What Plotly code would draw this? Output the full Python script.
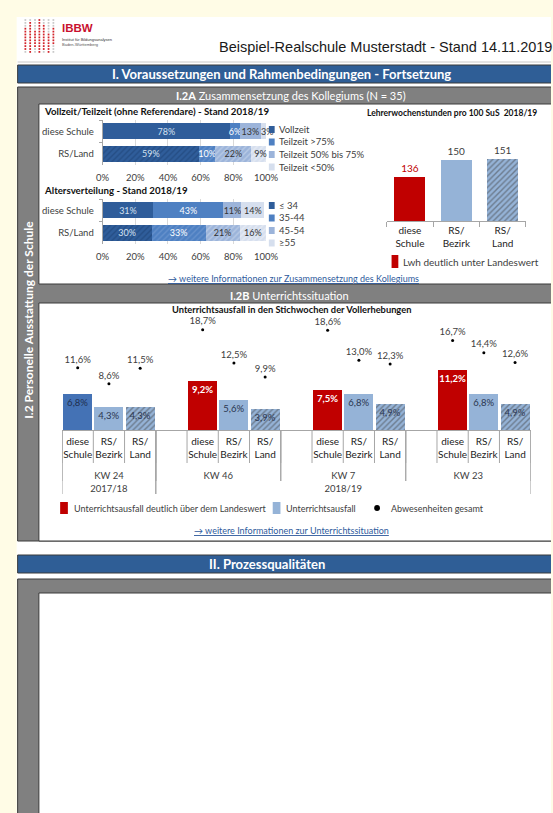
import plotly.graph_objects as go

W, H = 563, 813
def X(p): return p / W
def Y(p): return 1 - p / H

# ---------------- data ----------------
vt_rows = ["diese Schule", "RS/Land"]
vt_series = ["Vollzeit", "Teilzeit >75%", "Teilzeit 50% bis 75%", "Teilzeit <50%"]
vt_diese = [78, 6, 13, 3]
vt_land = [59, 10, 22, 9]

age_series = ["≤ 34", "35-44", "45-54", "≥55"]
age_diese = [31, 43, 11, 14]
age_land = [30, 33, 21, 16]

lwh_cats = ["diese<br>Schule", "RS/<br>Bezirk", "RS/<br>Land"]
lwh_values = [136, 150, 151]

weeks = ["KW 24", "KW 46", "KW 7", "KW 23"]
school_years = ["2017/18", "2018/19"]
week_year = [0, 1, 1, 1]
compare_cats = ["diese<br>Schule", "RS/<br>Bezirk", "RS/<br>Land"]
ausfall_schule = [6.8, 9.2, 7.5, 11.2]
ausfall_bezirk = [4.3, 5.6, 6.8, 6.8]
ausfall_land = [4.3, 3.9, 4.9, 4.9]
abw_schule = [11.6, 18.7, 18.6, 16.7]
abw_bezirk = [8.6, 12.5, 13.0, 14.4]
abw_land = [11.5, 9.9, 12.3, 12.6]
deutlich_ueber = [False, True, True, True]

# ---------------- styles ----------------
FONT = "Lato"
TXT = "#404040"
RED = "#C00000"
LIGHTBLUE = "#95B3D7"
seg_colors = ["#2F5D9A", "#4E80C2", "#9CB4DA", "#D6DFEE"]
seg_hatch = ["#1C3F70", "#7DA2D6", "#D3DFF0", "#F3F6FA"]
seg_text = ["#D5E1F1", "#FFFFFF", "#333333", "#333333"]
KW24_BLUE = "#4472B5"

def pct(v):
    return f"{v:.1f}".replace(".", ",") + "%"

fig = go.Figure()

# stacked bars (Vollzeit/Teilzeit, Alter)
def stacked(series, a, b, xa, ya, last_anchor="middle"):
    for i, name in enumerate(series):
        fig.add_trace(go.Bar(
            y=vt_rows, x=[a[i], b[i]], orientation="h", name=name,
            xaxis=xa, yaxis=ya, showlegend=False, cliponaxis=False,
            marker=dict(color=seg_colors[i], line=dict(width=0),
                        pattern=dict(shape=["", "/"], fgcolor=seg_hatch[i],
                                     bgcolor=seg_colors[i], size=4, solidity=0.35,
                                     fillmode="overlay")),
            text=[f"{a[i]}%", f"{b[i]}%"], textposition="inside",
            insidetextanchor=last_anchor if i == len(series) - 1 else "middle",
            textangle=0, constraintext="none",
            textfont=dict(family=FONT, size=9, color=seg_text[i]),
            hoverinfo="skip"))

stacked(vt_series, vt_diese, vt_land, "x", "y", last_anchor="start")
stacked(age_series, age_diese, age_land, "x2", "y2")

# Lehrerwochenstunden
fig.add_trace(go.Bar(
    x=lwh_cats, y=lwh_values, xaxis="x3", yaxis="y3", showlegend=False,
    marker=dict(color=[RED, LIGHTBLUE, LIGHTBLUE], line=dict(width=0),
                pattern=dict(shape=["", "", "/"], fgcolor="#DCE5F1", bgcolor=[RED, LIGHTBLUE, LIGHTBLUE],
                             size=4, solidity=0.35, fillmode="overlay")),
    text=[str(v) for v in lwh_values], textposition="outside", cliponaxis=False,
    textfont=dict(family=FONT, size=10, color=[RED, TXT, TXT]),
    width=0.67, hoverinfo="skip"))

# Unterrichtsausfall
xs, ys, cols, pats, texts, tcols, dots = [], [], [], [], [], [], []
tickvals, ticktext = [], []
for g in range(len(weeks)):
    start = 0 if g == 0 else 4 * g
    vals = [ausfall_schule[g], ausfall_bezirk[g], ausfall_land[g]]
    abw = [abw_schule[g], abw_bezirk[g], abw_land[g]]
    for j in range(3):
        xs.append(start + j)
        ys.append(vals[j])
        dots.append(abw[j])
        tickvals.append(start + j)
        ticktext.append(compare_cats[j])
        if j == 0:
            c = RED if deutlich_ueber[g] else KW24_BLUE
        else:
            c = LIGHTBLUE
        cols.append(c)
        pats.append("/" if j == 2 else "")
        if j == 0 and deutlich_ueber[g]:
            texts.append("<b>" + pct(vals[j]) + "</b>")
            tcols.append("#FFFFFF")
        else:
            texts.append(pct(vals[j]))
            tcols.append("#1F2F4F" if j == 0 else "#2A3550")

fig.add_trace(go.Bar(
    x=xs, y=ys, xaxis="x4", yaxis="y4", showlegend=False, width=0.93,
    marker=dict(color=cols, line=dict(width=0),
                pattern=dict(shape=pats, fgcolor="#DCE5F1", bgcolor=cols, size=4,
                             solidity=0.35, fillmode="overlay")),
    text=texts, textposition="inside", insidetextanchor="end", textangle=0,
    constraintext="none", textfont=dict(family=FONT, size=9.5, color=tcols),
    hoverinfo="skip"))
fig.add_trace(go.Scatter(
    x=xs, y=dots, xaxis="x4", yaxis="y4", mode="markers+text", showlegend=False,
    marker=dict(color="#000000", size=3), text=[pct(v) for v in dots],
    textposition="top center", textfont=dict(family=FONT, size=9.5, color=TXT),
    cliponaxis=False, hoverinfo="skip"))

# group spans of the multi-level category axis
n_cat = 4 * len(weeks) - 1
spans = []
for g in range(len(weeks)):
    lo = -0.5 if g == 0 else 4 * g - 1.5
    hi = 2.5 if g == 0 else 4 * g + 2.5
    spans.append((lo, hi))
year_spans = []
for yi in range(len(school_years)):
    members = [spans[g] for g in range(len(weeks)) if week_year[g] == yi]
    year_spans.append((min(m[0] for m in members), max(m[1] for m in members)))

# empty helper traces so the label axes exist
fig.add_trace(go.Scatter(x=[None], y=[None], xaxis="x5", yaxis="y4", showlegend=False,
                         hoverinfo="skip"))
fig.add_trace(go.Scatter(x=[None], y=[None], xaxis="x6", yaxis="y4", showlegend=False,
                         hoverinfo="skip"))

# ---------------- shapes (page frame) ----------------
shapes = []
BORDER = "#3A3A3A"
def hline(x0, x1, y, color, lw=1):
    shapes.append(dict(type="line", xref="paper", yref="paper", x0=X(x0), x1=X(x1),
                       y0=Y(y), y1=Y(y), line=dict(color=color, width=lw), layer="below"))
def vline(x, y0, y1, color, lw=1):
    shapes.append(dict(type="line", xref="paper", yref="paper", x0=X(x), x1=X(x),
                       y0=Y(y0), y1=Y(y1), line=dict(color=color, width=lw), layer="below"))
def rect(x0, y0, x1, y1, fill, border=True, bottom=True):
    shapes.append(dict(type="rect", xref="paper", yref="paper", x0=X(x0), x1=X(x1),
                       y0=Y(y1), y1=Y(y0), fillcolor=fill, layer="below",
                       line=dict(width=0)))
    if border:
        hline(x0, W, y0, BORDER)
        if bottom:
            hline(x0, W, y1, BORDER)
        vline(x0, y0, y1, BORDER)

rect(10, 17, W, H, "#FFFFFF", border=False)
hline(11, W, 62, "#C8C8C8")
rect(11, 65, W, 83, "#2F5E96")
rect(11, 87, W, 541, "#808080")
rect(33, 104, W, 284, "#FFFFFF")
rect(33, 303, W, 541, "#FFFFFF")
rect(11, 555, W, 573, "#2F5E96")
rect(11, 579, W, H, "#808080", bottom=False)
rect(33, 593, W, H, "#FFFFFF", bottom=False)

# logo dots
logo_cols = [19, 24, 29, 33.5, 38, 43, 48]
red_ranges = [(3, 10), (1, 11), (4, 9), (0, 11), (2, 10), (5, 11), (3, 8)]
for ci, cx in enumerate(logo_cols):
    r0, r1 = red_ranges[ci]
    for r in range(12):
        cy = 20 + r * 2.9
        col = "#D2232A" if r0 <= r <= r1 else "#C9C9C9"
        shapes.append(dict(type="rect", xref="paper", yref="paper",
                           x0=X(cx - 0.9), x1=X(cx + 0.9), y0=Y(cy + 0.9), y1=Y(cy - 0.9),
                           fillcolor=col, line=dict(width=0), layer="below"))

annotations = []
def ann(x, y, text, size=9.5, color=TXT, xanchor="left", bold=False, angle=0, family=FONT):
    annotations.append(dict(x=X(x), y=Y(y), xref="paper", yref="paper", text=text,
                            showarrow=False, xanchor=xanchor, yanchor="middle",
                            textangle=angle,
                            font=dict(family=family, size=size, color=color,
                                      weight="bold" if bold else "normal")))
def sq(x0, y0, x1, y1, color):
    shapes.append(dict(type="rect", xref="paper", yref="paper", x0=X(x0), x1=X(x1),
                       y0=Y(y1), y1=Y(y0), fillcolor=color, line=dict(width=0)))

# legends I.2A
for i, name in enumerate(vt_series):
    yy = 129.5 + i * 12.5
    sq(271, yy - 3.5, 277, yy + 3.5, seg_colors[i])
    ann(279, yy, name)
for i, name in enumerate(age_series):
    yy = 205.5 + i * 12.5
    sq(271, yy - 3.5, 277, yy + 3.5, seg_colors[i])
    ann(279, yy, name)

sq(398, 255, 405, 268, RED)
ann(408, 261.5, "Lwh deutlich unter Landeswert", size=10)

# legend I.2B
sq(55, 502, 63, 514, RED)
ann(67, 508, "Unterrichtsausfall deutlich über dem Landeswert", size=9)
sq(275, 502, 283, 514, LIGHTBLUE)
ann(287, 508, "Unterrichtsausfall", size=9)
shapes.append(dict(type="circle", xref="paper", yref="paper", x0=X(380), x1=X(386),
                   y0=Y(511), y1=Y(505), fillcolor="#000000", line=dict(width=0)))
ann(395, 508, "Abwesenheiten gesamt", size=9)

# separators of the multi-level category axis in I.2B
SEP = "#A6A6A6"
def vsep(xv, y0, y1):
    shapes.append(dict(type="line", xref="x4", yref="paper", x0=xv, x1=xv,
                       y0=Y(y0), y1=Y(y1), line=dict(color=SEP, width=1)))
for b in range(n_cat + 1):
    vsep(b - 0.5, 430, 463)
for lo, hi in spans:
    vsep(lo, 430, 481)
    vsep(hi, 430, 481)
for lo, hi in year_spans:
    vsep(lo, 430, 494)
    vsep(hi, 430, 494)

# ---------------- texts ----------------
ann(55, 28, "<b>IBBW</b>", size=11.5, color="#C8102E", family="Liberation Sans")
ann(55, 39, "Institut für Bildungsanalysen", size=4, color="#333333", family="Liberation Sans")
ann(55, 44, "Baden-Württemberg", size=4, color="#555555", family="Liberation Sans")
ann(217, 46.5, "Beispiel-Realschule Musterstadt - Stand 14.11.2019", size=14.5,
    color="#1A1A1A", family="Liberation Sans")
ann(284, 74, "I. Voraussetzungen und Rahmenbedingungen - Fortsetzung", size=13,
    color="#FFFFFF", xanchor="center", bold=True)
ann(269, 564, "II. Prozessqualitäten", size=13, color="#FFFFFF", xanchor="center", bold=True)
ann(294, 96, "<b>I.2A</b> Zusammensetzung des Kollegiums (N = 35)", size=11,
    color="#FFFFFF", xanchor="center")
ann(292, 295, "<b>I.2B</b> Unterrichtssituation", size=11, color="#FFFFFF", xanchor="center")
ann(21.5, 320, "I.2 Personelle Ausstattung der Schule", size=12, color="#FFFFFF",
    xanchor="center", bold=True, angle=-90)
ann(36, 111, "Vollzeit/Teilzeit (ohne Referendare) - Stand 2018/19", size=9.7,
    color="#111111", bold=True)
ann(36, 190, "Altersverteilung - Stand 2018/19", size=9.7, color="#111111", bold=True)
ann(461, 113, "Lehrerwochenstunden pro 100 SuS  2018/19", size=8.5, color="#111111",
    xanchor="center", bold=True)
ann(294, 310, "Unterrichtsausfall in den Stichwochen der Vollerhebungen", size=9.3,
    color="#111111", xanchor="center", bold=True)
LINK = "#2E5A9C"
ann(296, 278, "<span style='text-decoration:underline'>→ weitere Informationen zur Zusammensetzung des Kollegiums</span>",
    size=9, color=LINK, xanchor="center")
ann(294, 530, "<span style='text-decoration:underline'>→ weitere Informationen zur Unterrichtssituation</span>",
    size=9, color=LINK, xanchor="center")

# ---------------- axes ----------------
pct_axis = dict(range=[0, 100], tickvals=[0, 20, 40, 60, 80, 100],
                ticktext=["0%", "20%", "40%", "60%", "80%", "100%"],
                showgrid=True, gridcolor="#D9D9D9", gridwidth=1, zeroline=False,
                showline=False, tickfont=dict(family=FONT, size=9.5, color=TXT),
                ticks="", ticklabelstandoff=5, fixedrange=True)
cat_axis = dict(type="category", categoryorder="array", categoryarray=vt_rows,
                autorange="reversed", showline=True, linecolor="#A6A6A6",
                ticks="outside", ticklen=3, tickcolor="#A6A6A6", tickson="boundaries",
                tickfont=dict(family=FONT, size=9.5, color=TXT), ticklabelstandoff=6,
                showgrid=False, fixedrange=True)
label_axis = dict(overlaying="x4", anchor="y4", side="bottom", range=[-0.5, n_cat - 0.5],
                  showline=False, showgrid=False, zeroline=False, ticks="",
                  tickfont=dict(family=FONT, size=9.5, color=TXT), fixedrange=True)

fig.update_layout(
    width=W, height=H, margin=dict(l=0, r=0, t=0, b=0),
    paper_bgcolor="#FFFCE6", plot_bgcolor="rgba(0,0,0,0)",
    barmode="stack", bargap=0.3, showlegend=False,
    font=dict(family=FONT, color=TXT),
    xaxis=dict(domain=[X(99), X(268)], anchor="y", **pct_axis),
    yaxis=dict(domain=[Y(165), Y(120)], anchor="x", **cat_axis),
    xaxis2=dict(domain=[X(99), X(268)], anchor="y2", **pct_axis),
    yaxis2=dict(domain=[Y(244), Y(199)], anchor="x2", **cat_axis),
    xaxis3=dict(domain=[X(393), X(537)], anchor="y3", type="category", showline=True,
                linecolor="#A6A6A6", ticks="outside", ticklen=5, tickcolor="#A6A6A6",
                tickson="boundaries", showgrid=False,
                tickfont=dict(family=FONT, size=10, color="#222222"), fixedrange=True),
    yaxis3=dict(domain=[Y(221), Y(124)], anchor="x3", range=[100, 180], visible=False,
                fixedrange=True),
    xaxis4=dict(domain=[X(57), X(542)], anchor="y4", range=[-0.5, n_cat - 0.5],
                tickvals=tickvals, ticktext=ticktext, showline=True, linecolor="#A6A6A6",
                ticks="", showgrid=False, zeroline=False, ticklabelstandoff=2,
                tickfont=dict(family=FONT, size=10, color="#222222"), fixedrange=True),
    xaxis5=dict(tickvals=[(lo + hi) / 2 for lo, hi in spans], ticktext=weeks,
                ticklabelstandoff=38, **label_axis),
    xaxis6=dict(tickvals=[(lo + hi) / 2 for lo, hi in year_spans], ticktext=school_years,
                ticklabelstandoff=51, **label_axis),
    yaxis4=dict(domain=[Y(430), Y(320)], anchor="x4", range=[0, 20.5], visible=False,
                fixedrange=True),
    shapes=shapes, annotations=annotations,
)

POST = (
    "document.documentElement.style.margin='0';"
    "document.documentElement.style.overflow='hidden';"
    "document.body.style.margin='0';"
    "document.body.style.overflow='hidden';"
    "var gd=document.getElementsByClassName('plotly-graph-div')[0];"
    "gd.style.position='fixed';gd.style.left='0px';gd.style.top='0px';"
)
fig.write_html("out.html", config={"displayModeBar": False}, post_script=POST)
